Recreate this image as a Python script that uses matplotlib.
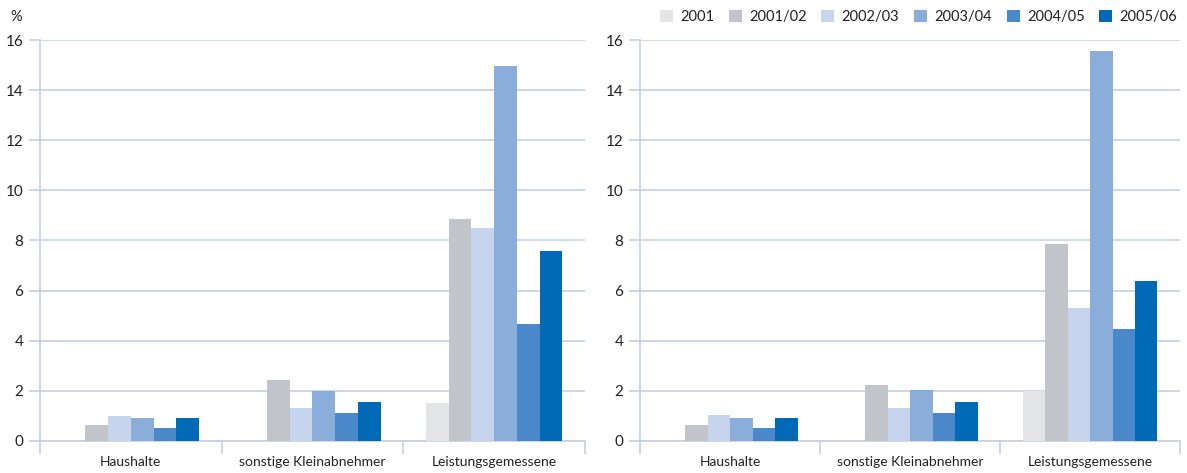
import matplotlib
matplotlib.use("Agg")
import matplotlib.pyplot as plt
from matplotlib.patches import Patch
import numpy as np

categories = ["Haushalte", "sonstige Kleinabnehmer", "Leistungsgemessene"]
series = ["2001", "2001/02", "2002/03", "2003/04", "2004/05", "2005/06"]
colors = ["#e3e4e6", "#c1c5c9", "#c6d4ee", "#8badd9", "#4a88c9", "#006ab6"]

left_values = {
    "2001":    [0.0, 0.0, 1.53],
    "2001/02": [0.65, 2.42, 8.85],
    "2002/03": [1.0, 1.3, 8.5],
    "2003/04": [0.93, 2.0, 14.95],
    "2004/05": [0.5, 1.13, 4.65],
    "2005/06": [0.93, 1.57, 7.57],
}
right_values = {
    "2001":    [0.0, 0.0, 2.0],
    "2001/02": [0.65, 2.25, 7.88],
    "2002/03": [1.05, 1.3, 5.3],
    "2003/04": [0.93, 2.05, 15.55],
    "2004/05": [0.5, 1.13, 4.47],
    "2005/06": [0.93, 1.57, 6.37],
}
yticks = [0, 2, 4, 6, 8, 10, 12, 14, 16]

plt.rcParams['font.family'] = ['Lato', 'DejaVu Sans']
grid_c = "#c3d1e8"
text_c = "#222222"

fig = plt.figure(figsize=(11.87, 4.73), dpi=100)
ax1 = fig.add_axes([0.0337, 0.0677, 0.4591, 0.8477])
ax2 = fig.add_axes([0.5392, 0.0677, 0.4549, 0.8477])

def draw(ax, values):
    x = np.arange(len(categories))
    w = 0.75 / len(series)
    for i, (s, c) in enumerate(zip(series, colors)):
        ax.bar(x - 0.375 + w * (i + 0.5), values[s], width=w, color=c, zorder=3)
    ax.set_xlim(-0.5, len(categories) - 0.5)
    ax.set_ylim(0, 16)
    ax.set_yticks(yticks)
    ax.set_yticklabels([str(t) for t in yticks], fontsize=11, color=text_c)
    ax.set_xticks(x)
    ax.set_xticklabels(categories, fontsize=10, color=text_c)
    ax.tick_params(axis='x', which='major', length=0, pad=11)
    ax.set_xticks(np.arange(-0.5, len(categories), 1.0), minor=True)
    ax.tick_params(axis='x', which='minor', length=9, color=grid_c, width=1.2)
    ax.tick_params(axis='y', length=8, color=grid_c, width=1.2, pad=4)
    ax.grid(axis='y', color=grid_c, linewidth=1.2, zorder=0)
    for sp in ['top', 'right']:
        ax.spines[sp].set_visible(False)
    ax.spines['left'].set_color(grid_c)
    ax.spines['bottom'].set_color(grid_c)
    ax.spines['left'].set_linewidth(1.2)
    ax.spines['bottom'].set_linewidth(1.2)

draw(ax1, left_values)
draw(ax2, right_values)

fig.text(0.009, 0.965, "%", fontsize=10.5, color=text_c, va='center')

handles = [Patch(facecolor=c, edgecolor='none') for c in colors]
fig.legend(handles, series, loc='center right', bbox_to_anchor=(1.003, 0.965),
           ncol=6, frameon=False, fontsize=10.5, handlelength=0.9, handleheight=0.9,
           handletextpad=0.5, columnspacing=1.0, labelcolor=text_c)

fig.savefig("out.png", dpi=100)
